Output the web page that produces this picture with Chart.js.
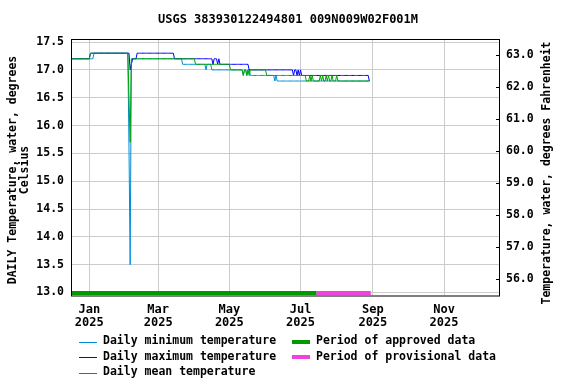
<!DOCTYPE html>
<html><head><meta charset="utf-8">
<script src="https://cdn.jsdelivr.net/npm/chart.js@4/dist/chart.umd.min.js"></script>
<style>html,body{margin:0;padding:0;background:#fff}#wrap{width:576px;height:384px}</style>
</head><body><div id="wrap"><canvas id="c" width="576" height="384"></canvas></div>
<script>
// ---- text ----
const TITLE = 'USGS 383930122494801 009N009W02F001M';
const Y_LEFT_LABEL = ['DAILY Temperature, water, degrees', 'Celsius'];
const Y_RIGHT_LABEL = 'Temperature, water, degrees Fahrenheit';
const seriesLabels = ['Daily minimum temperature', 'Daily maximum temperature', 'Daily mean temperature'];
const periodLabels = ['Period of approved data', 'Period of provisional data'];

// ---- ticks (x = days since 2025-01-01) ----
const monthTickDays = [0, 59, 120, 181, 243, 304];
const monthTickLabels = ['Jan', 'Mar', 'May', 'Jul', 'Sep', 'Nov'];
const tickYear = '2025';
const celsiusTicks = [13.0, 13.5, 14.0, 14.5, 15.0, 15.5, 16.0, 16.5, 17.0, 17.5];
const fahrenheitTicks = [56, 57, 58, 59, 60, 61, 62, 63];

// ---- data: [first day of run, value] ; each run lasts until the next one ----
const firstDay = -15;
const lastDay = 240;
const minRuns = [[-15,17.2],[4,17.3],[34,15.6],[35,13.5],[36,17.1],[37,17.2],[80,17.1],[100,17.0],[101,17.1],
  [105,17.0],[132,16.9],[133,17.0],[135,16.9],[136,17.0],[138,16.9],[159,16.8],[160,16.9],[161,16.8]];
const maxRuns = [[-15,17.2],[1,17.3],[35,17.0],[36,17.1],[37,17.2],[41,17.3],[73,17.2],[106,17.1],[107,17.2],
  [110,17.1],[111,17.2],[112,17.1],[137,17.0],[175,16.9],[176,17.0],[178,16.9],[179,17.0],[180,16.9],[181,17.0],
  [182,16.9],[240,16.8]];
const meanRuns = [[-15,17.2],[1,17.3],[34,16.5],[35,15.7],[36,17.2],[91,17.1],[121,17.0],[132,16.9],[133,17.0],
  [135,16.9],[136,17.0],[137,16.9],[138,17.0],[152,16.9],[186,16.8],[189,16.9],[190,16.8],[191,16.9],[192,16.8],
  [198,16.9],[199,16.8],[200,16.9],[201,16.8],[203,16.9],[204,16.8],[205,16.9],[206,16.8],[208,16.9],[209,16.8],
  [212,16.9],[213,16.8]];
const approvedPeriod = [-16, 194.6];
const provisionalPeriod = [194.6, 241.2];

function expandRuns(runs) {
  const pts = [];
  for (let i = 0; i < runs.length; i++) {
    const end = i + 1 < runs.length ? runs[i + 1][0] - 1 : lastDay;
    for (let d = runs[i][0]; d <= end; d++) pts.push({x: d, y: runs[i][1]});
  }
  return pts;
}

const FONT = "'DejaVu Sans Mono', monospace";
const COLORS = {min: '#008cd6', max: '#0000ff', mean: '#00a400', approved: '#009a00', provisional: '#ee44dd'};
const BAR_LEVEL = 12.99;

const lineDs = (label, data, color, order) => ({label, data, borderColor: color, backgroundColor: color,
  borderWidth: 1, pointRadius: 0, tension: 0, order, yAxisID: 'y', clip: 0});
const barDs = (label, period, color) => ({label, data: [{x: period[0], y: BAR_LEVEL}, {x: period[1], y: BAR_LEVEL}],
  borderColor: color, backgroundColor: color, borderWidth: 4, pointRadius: 0, order: 4, yAxisID: 'y', clip: 0,
  borderCapStyle: 'butt'});

const frame = {
  id: 'frame',
  afterDraw(chart) {
    const ctx = chart.ctx, a = chart.chartArea;
    ctx.save();
    ctx.strokeStyle = '#000'; ctx.lineWidth = 1;
    ctx.strokeRect(a.left + 0.5, a.top + 0.5, a.right - a.left, a.bottom - a.top + 0.5);
    const y2 = chart.scales.y2;
    ctx.beginPath();
    y2.ticks.forEach(t => {
      const py = Math.round(y2.getPixelForValue(t.value)) + 0.5;
      ctx.moveTo(a.right - 3, py); ctx.lineTo(a.right + 0.5, py);
    });
    ctx.stroke();
    // axis titles
    ctx.fillStyle = '#000';
    ctx.textAlign = 'center'; ctx.textBaseline = 'middle';
    ctx.font = 'bold 11.5px ' + FONT;
    ctx.save(); ctx.translate(13, 170); ctx.rotate(-Math.PI / 2);
    ctx.fillText(Y_LEFT_LABEL[0], 0, 0); ctx.fillText(Y_LEFT_LABEL[1], 0, 12);
    ctx.restore();
    ctx.save(); ctx.translate(547.5, 173); ctx.rotate(-Math.PI / 2);
    ctx.fillText(Y_RIGHT_LABEL, 0, 0);
    ctx.restore();
    // legend
    ctx.textAlign = 'left';
    const rows = [341.5, 357, 372.5];
    const lineCols = [COLORS.min, COLORS.max, COLORS.mean];
    seriesLabels.forEach((lab, i) => {
      ctx.fillStyle = lineCols[i];
      ctx.fillRect(79, Math.round(rows[i]), 18, 1);
      ctx.fillStyle = '#000';
      ctx.fillText(lab, 103, rows[i]);
    });
    const barCols = [COLORS.approved, COLORS.provisional];
    periodLabels.forEach((lab, i) => {
      ctx.fillStyle = barCols[i];
      ctx.fillRect(292, Math.round(rows[i]) - 2, 18, 4);
      ctx.fillStyle = '#000';
      ctx.fillText(lab, 316, rows[i]);
    });
    ctx.restore();
  }
};

new Chart(document.getElementById('c'), {
  type: 'line',
  data: {datasets: [
    lineDs(seriesLabels[2], expandRuns(meanRuns), COLORS.mean, 1),
    lineDs(seriesLabels[1], expandRuns(maxRuns), COLORS.max, 2),
    lineDs(seriesLabels[0], expandRuns(minRuns), COLORS.min, 3),
    barDs(periodLabels[0], approvedPeriod, COLORS.approved),
    barDs(periodLabels[1], provisionalPeriod, COLORS.provisional)
  ]},
  options: {
    responsive: false, animation: false, devicePixelRatio: 1,
    layout: {padding: 0},
    plugins: {
      legend: {display: false}, tooltip: {enabled: false},
      title: {display: true, text: TITLE, color: '#000', font: {family: FONT, size: 12, weight: 'bold', lineHeight: 1.2},
        padding: {top: 13, bottom: 11.6}}
    },
    scales: {
      x: {type: 'linear', min: -15.7, max: 351.1,
        afterBuildTicks: s => { s.ticks = monthTickDays.map(v => ({value: v})); },
        afterFit: s => { s.height = 89; },
        grid: {color: '#cccccc', drawTicks: false}, border: {display: false},
        ticks: {autoSkip: false, maxRotation: 0, padding: 8, color: '#000',
          font: {family: FONT, size: 12, weight: 'bold', lineHeight: 1.1},
          callback: v => { const i = monthTickDays.indexOf(v); return i >= 0 ? [monthTickLabels[i], tickYear] : ''; }}},
      y: {type: 'linear', position: 'left', min: 12.955, max: 17.555,
        afterBuildTicks: s => { s.ticks = celsiusTicks.map(v => ({value: v})); },
        afterFit: s => { s.width = 71; },
        grid: {color: '#cccccc', drawTicks: false}, border: {display: false},
        ticks: {padding: 7, color: '#000', font: {family: FONT, size: 11.5, weight: 'bold'}, callback: v => v.toFixed(1)}},
      y2: {type: 'linear', position: 'right', min: 55.484, max: 63.5,
        afterBuildTicks: s => { s.ticks = fahrenheitTicks.map(v => ({value: v})); },
        afterFit: s => { s.width = 77; },
        grid: {display: false, drawTicks: false}, border: {display: false},
        ticks: {padding: 7, color: '#000', font: {family: FONT, size: 11.5, weight: 'bold'}, callback: v => v.toFixed(1)}}
    }
  },
  plugins: [frame]
});
</script></body></html>
